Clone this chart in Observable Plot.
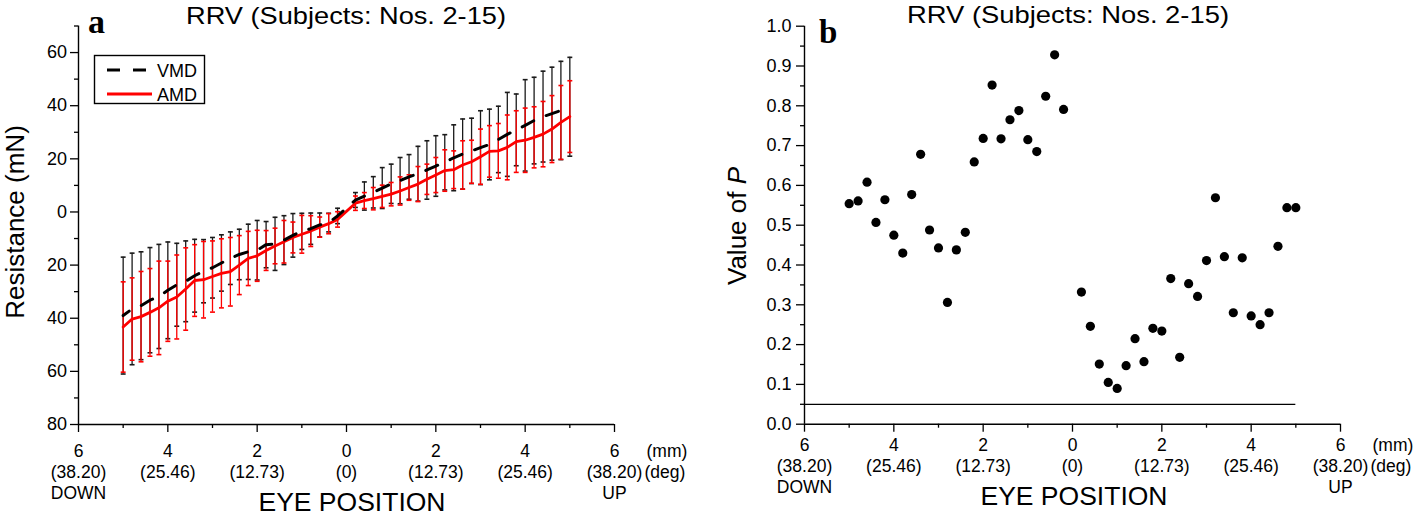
<!DOCTYPE html>
<html><head><meta charset="utf-8">
<script src="https://cdn.jsdelivr.net/npm/d3@7"></script>
<script src="https://cdn.jsdelivr.net/npm/@observablehq/plot@0.6"></script>
<style>
body{margin:0;background:#fff;}
#wrap{position:relative;width:1417px;height:517px;overflow:hidden;background:#fff;}
#wrap > svg{position:absolute;top:0;}
</style></head><body><div id="wrap"></div>
<script>
// ---------- data ----------
const positions = [-5.0,-4.8,-4.6,-4.4,-4.2,-4.0,-3.8,-3.6,-3.4,-3.2,-3.0,-2.8,-2.6,-2.4,-2.2,-2.0,-1.8,-1.6,-1.4,-1.2,-1.0,-0.8,-0.6,-0.4,-0.2,
                   0.2,0.4,0.6,0.8,1.0,1.2,1.4,1.6,1.8,2.0,2.2,2.4,2.6,2.8,3.0,3.2,3.4,3.6,3.8,4.0,4.2,4.4,4.6,4.8,5.0];
const vmdMean = [-39.0,-36.5,-35.3,-33.2,-31.8,-29.5,-27.4,-26.1,-24.0,-22.3,-21.0,-19.2,-17.4,-16.0,-15.0,-14.4,-12.3,-12.0,-10.6,-8.8,-7.3,-6.3,-4.9,-4.0,-1.5,
                 4.5,6.0,7.4,9.0,10.6,11.8,13.2,14.4,15.8,17.3,18.7,20.4,21.8,23.0,24.2,25.4,27.3,29.2,30.9,32.6,34.4,35.9,37.0,38.2,39.6];
const vmdSD = [22.0,21.0,20.3,19.8,19.6,18.2,15.6,15.2,13.7,11.9,11.4,10.6,9.9,9.5,10.4,11.2,8.7,10.0,9.2,8.2,6.8,5.9,4.5,3.5,2.9,
               2.8,5.3,5.9,7.7,7.4,8.7,8.4,10.3,11.0,11.4,10.4,12.4,13.2,12.3,13.9,13.3,12.5,15.8,13.5,17.2,16.3,17.1,17.5,18.5,18.6];
const amdMean = [-43.3,-40.3,-39.4,-37.8,-36.1,-33.6,-32.0,-29.0,-25.8,-25.5,-24.3,-23.1,-22.5,-20.0,-17.5,-16.5,-14.5,-12.8,-11.2,-9.6,-8.4,-7.2,-5.7,-4.4,-2.8,
                 3.3,4.3,5.0,5.9,6.7,7.9,9.2,10.5,12.3,13.9,15.6,15.9,17.7,18.9,20.8,22.8,23.0,24.3,26.5,27.0,28.1,29.3,31.2,33.7,35.9];
const amdSD = [17.0,15.5,17.0,16.5,17.6,15.1,15.8,15.5,13.5,14.4,13.4,13.0,12.9,11.1,10.2,9.6,7.5,6.7,8.0,5.8,7.1,5.8,3.8,3.8,2.9,
               2.7,3.0,4.2,4.2,4.4,5.3,4.8,6.6,5.7,6.6,7.8,7.1,9.1,8.1,10.4,9.7,10.3,12.2,11.6,12.1,11.5,12.3,12.6,13.9,13.5];
const pValues = [0.554,0.561,0.608,0.507,0.564,0.475,0.430,0.577,0.678,0.488,0.443,0.306,0.438,0.482,0.659,0.718,0.852,0.717,0.765,0.788,0.715,0.685,0.824,0.928,0.791,
                 0.332,0.246,0.151,0.105,0.090,0.147,0.215,0.157,0.241,0.234,0.366,0.168,0.353,0.321,0.411,0.569,0.421,0.280,0.418,0.272,0.250,0.280,0.447,0.544,0.544];
const pThreshold = 0.05;

const seriesNames = ["VMD", "AMD"];
const xDomain = [-6, 6];
const xTickValues = [-6,-4,-2,0,2,4,6];
const xTickMM  = ["6","4","2","0","2","4","6"];
const xTickDeg = ["(38.20)","(25.46)","(12.73)","(0)","(12.73)","(25.46)","(38.20)"];
const xTickDir = ["DOWN","","","","","","UP"];
const xMinorValues = [-5,-3,-1,1,3,5];
const unitMM = "(mm)", unitDeg = "(deg)";
const yDomainA = [-80, 70];
const yTicksA = [-80,-60,-40,-20,0,20,40,60];
const yMinorA = [-70,-50,-30,-10,10,30,50,70];
const yDomainB = [0, 1];
const yTicksB = [0,0.1,0.2,0.3,0.4,0.5,0.6,0.7,0.8,0.9,1.0];
const yMinorB = [0.05,0.15,0.25,0.35,0.45,0.55,0.65,0.75,0.85,0.95];
const titleText = "RRV (Subjects: Nos. 2-15)";
const xLabel = "EYE POSITION";

// ---------- build ----------
const FONT = '"Liberation Sans", Arial, Helvetica, sans-serif';
const xLab = d => {
  const i = xTickValues.indexOf(d);
  return [xTickMM[i], xTickDeg[i], xTickDir[i]].filter(Boolean).join("\n");
};
const rowsA = positions.map((x, i) => ({x, vm: vmdMean[i], vs: vmdSD[i], am: amdMean[i], as: amdSD[i]}));
const rowsB = positions.map((x, i) => ({x, p: pValues[i]}));
const capHalf = 0.055;
const BLACK = "#1a1a1a", RED = "#ff0000";
const TF = 17.5;

function axes(yTicks, yMinor, yFmt, xPad, yPad) {
  return [
    Plot.ruleX([xDomain[0]], {stroke: "#000", strokeWidth: 1.4}),
    Plot.axisY(yTicks, {tickSize: 8, tickPadding: yPad, tickFormat: yFmt, fontSize: 18, strokeWidth: 1.3, label: null}),
    Plot.axisY(yMinor, {tickSize: 4, tickFormat: () => "", strokeWidth: 1.3, label: null}),
    Plot.axisX(xTickValues, {tickSize: 8, tickPadding: xPad, tickFormat: xLab, fontSize: TF, lineHeight: 1.2, strokeWidth: 1.3, label: null}),
    Plot.axisX(xMinorValues, {tickSize: 4, tickFormat: () => "", strokeWidth: 1.3, label: null}),
    Plot.text([unitMM], {x: xDomain[1], frameAnchor: "bottom", dy: 8 + xPad, dx: 32, lineAnchor: "top", textAnchor: "start", fontSize: TF, lineHeight: 1.2}),
    Plot.text(["\n" + unitDeg], {x: xDomain[1], frameAnchor: "bottom", dy: 8 + xPad, dx: 30, lineAnchor: "top", textAnchor: "start", fontSize: TF, lineHeight: 1.2})
  ];
}

const plotA = Plot.plot({
  width: 708, height: 517,
  marginLeft: 78, marginRight: 94, marginTop: 25.5, marginBottom: 93,
  x: {domain: xDomain, label: null},
  y: {domain: yDomainA, label: null},
  style: {fontFamily: FONT, fontSize: "18px", color: "#000", background: "transparent", overflow: "visible"},
  marks: [
    // VMD error bars
    Plot.ruleX(rowsA, {x: "x", y1: d => d.vm - d.vs, y2: d => d.vm + d.vs, stroke: BLACK, strokeWidth: 1.3}),
    Plot.link(rowsA, {x1: d => d.x - capHalf, x2: d => d.x + capHalf, y1: d => d.vm + d.vs, y2: d => d.vm + d.vs, stroke: BLACK, strokeWidth: 1.6}),
    Plot.link(rowsA, {x1: d => d.x - capHalf, x2: d => d.x + capHalf, y1: d => d.vm - d.vs, y2: d => d.vm - d.vs, stroke: BLACK, strokeWidth: 1.6}),
    // AMD error bars
    Plot.ruleX(rowsA, {x: "x", y1: d => d.am - d.as, y2: d => d.am + d.as, stroke: RED, strokeWidth: 1.3}),
    Plot.link(rowsA, {x1: d => d.x - capHalf, x2: d => d.x + capHalf, y1: d => d.am + d.as, y2: d => d.am + d.as, stroke: RED, strokeWidth: 1.6}),
    Plot.link(rowsA, {x1: d => d.x - capHalf, x2: d => d.x + capHalf, y1: d => d.am - d.as, y2: d => d.am - d.as, stroke: RED, strokeWidth: 1.6}),
    // means
    Plot.line(rowsA, {x: "x", y: "am", stroke: RED, strokeWidth: 2.8}),
    Plot.line(rowsA, {x: "x", y: "vm", stroke: "#000", strokeWidth: 3, strokeDasharray: "13,13.5", strokeDashoffset: 5.5}),
    // axes
    Plot.ruleY([yDomainA[0]], {stroke: "#000", strokeWidth: 1.4}),
    ...axes(yTicksA, yMinorA, d => String(Math.abs(d)), 9.5, 3.5)
  ]
});
plotA.style.left = "0px";

const plotB = Plot.plot({
  width: 709, height: 517,
  marginLeft: 96, marginRight: 77, marginTop: 25.7, marginBottom: 93.3,
  x: {domain: xDomain, label: null},
  y: {domain: yDomainB, label: null},
  style: {fontFamily: FONT, fontSize: "18px", color: "#000", background: "transparent", overflow: "visible"},
  marks: [
    Plot.ruleY([{p: pThreshold}], {y: "p", x1: xDomain[0], x2: d3.max(positions), stroke: "#000", strokeWidth: 1.3}),
    Plot.dot(rowsB, {x: "x", y: "p", r: 4.6, fill: "#000", stroke: "none"}),
    Plot.ruleY([yDomainB[0]], {stroke: "#000", strokeWidth: 1.4}),
    ...axes(yTicksB, yMinorB, d => d.toFixed(1), 3.5, 5)
  ]
});
plotB.style.left = "708px";

const wrap = document.getElementById("wrap");
wrap.appendChild(plotA);
wrap.appendChild(plotB);

// ---------- annotations (titles, labels, legend) ----------
const NS = "http://www.w3.org/2000/svg";
const ann = document.createElementNS(NS, "svg");
ann.setAttribute("width", 1417); ann.setAttribute("height", 517);
ann.style.left = "0px";
ann.style.fontFamily = FONT;
function el(tag, attrs, text) {
  const e = document.createElementNS(NS, tag);
  for (const k in attrs) e.setAttribute(k, attrs[k]);
  if (text != null) e.textContent = text;
  ann.appendChild(e);
  return e;
}
el("text", {x: 346, y: 24, "text-anchor": "middle", "font-size": 24.5, textLength: 320, lengthAdjust: "spacingAndGlyphs"}, titleText);
el("text", {x: 1068, y: 23, "text-anchor": "middle", "font-size": 24.5, textLength: 322, lengthAdjust: "spacingAndGlyphs"}, titleText);
el("text", {x: 88, y: 33, "font-size": 34, "font-weight": "bold", "font-family": '"Liberation Serif", "Times New Roman", serif'}, "a");
el("text", {x: 819, y: 43, "font-size": 33, "font-weight": "bold", "font-family": '"Liberation Serif", "Times New Roman", serif'}, "b");
el("text", {transform: "translate(24,222) rotate(-90)", "text-anchor": "middle", "font-size": 26}, "Resistance (mN)");
const vp = el("text", {transform: "translate(746,226) rotate(-90)", "text-anchor": "middle", "font-size": 26}, "Value of ");
const pi = document.createElementNS(NS, "tspan"); pi.setAttribute("font-style", "italic"); pi.textContent = "P"; vp.appendChild(pi);
el("text", {x: 352, y: 511, "text-anchor": "middle", "font-size": 26.5}, xLabel);
el("text", {x: 1074, y: 505, "text-anchor": "middle", "font-size": 26.5}, xLabel);
// legend
el("rect", {x: 94.5, y: 55.5, width: 110, height: 48, fill: "#fff", stroke: "#000", "stroke-width": 1.4});
el("line", {x1: 107, x2: 146, y1: 70, y2: 70, stroke: "#000", "stroke-width": 3, "stroke-dasharray": "13,13"});
el("line", {x1: 107, x2: 152, y1: 94, y2: 94, stroke: RED, "stroke-width": 2.8});
el("text", {x: 157, y: 76.5, "font-size": 18}, seriesNames[0]);
el("text", {x: 157, y: 100.5, "font-size": 18}, seriesNames[1]);
wrap.appendChild(ann);
</script></body></html>
